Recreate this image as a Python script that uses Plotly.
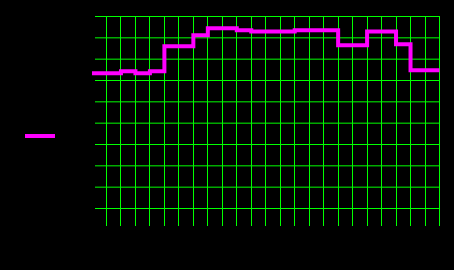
import plotly.graph_objects as go

# hour positions (grid units) and step values
hours = [-1, 0, 1, 2, 3, 4, 5, 6, 7, 8, 9, 10, 11, 12, 13, 14, 15, 16, 17, 18, 19, 20, 21, 22, 23]
values = [63.4, 63.4, 64.3, 63.4, 64.3, 76.1, 76.1, 81.2, 84.5, 84.5, 83.6, 83.0, 83.0, 83.0,
          83.6, 83.6, 83.6, 76.5, 76.5, 83.0, 83.0, 77.0, 64.8, 64.8, 64.8]
x_ticks = list(range(0, 24))
y_ticks = [0, 10, 20, 30, 40, 50, 60, 70, 80, 90]
series_name = "Value"

GREEN = "#00ff00"
MAGENTA = "#ff00ff"

fig = go.Figure()
fig.add_trace(go.Scatter(
    x=hours, y=values, mode="lines", name=series_name,
    line=dict(color=MAGENTA, width=4, shape="hv"),
))

shapes = []
for v in y_ticks:
    shapes.append(dict(type="line", xref="paper", yref="y",
                       x0=3 / 349, x1=348 / 349, y0=v, y1=v,
                       line=dict(color=GREEN, width=1), layer="below"))

fig.update_layout(
    width=454, height=270,
    margin=dict(l=92, r=13, t=16, b=44, autoexpand=False),
    paper_bgcolor="#000000", plot_bgcolor="#000000",
    showlegend=True,
    legend=dict(x=(20 - 92) / 349, xanchor="left", y=(226 - 136) / 210, yanchor="middle",
                bgcolor="rgba(0,0,0,0)", font=dict(color="#000000", size=10)),
    shapes=shapes,
    xaxis=dict(range=[-1.0, 23.105], tickvals=x_ticks, showgrid=True, gridcolor=GREEN,
               gridwidth=1, zeroline=False, showline=False, ticks="",
               showticklabels=False, automargin=False),
    yaxis=dict(range=[-8.203, 90.234], tickvals=y_ticks, showgrid=False, zeroline=False,
               showline=False, ticks="", showticklabels=False, automargin=False),
)

fig.write_html("out.html")
